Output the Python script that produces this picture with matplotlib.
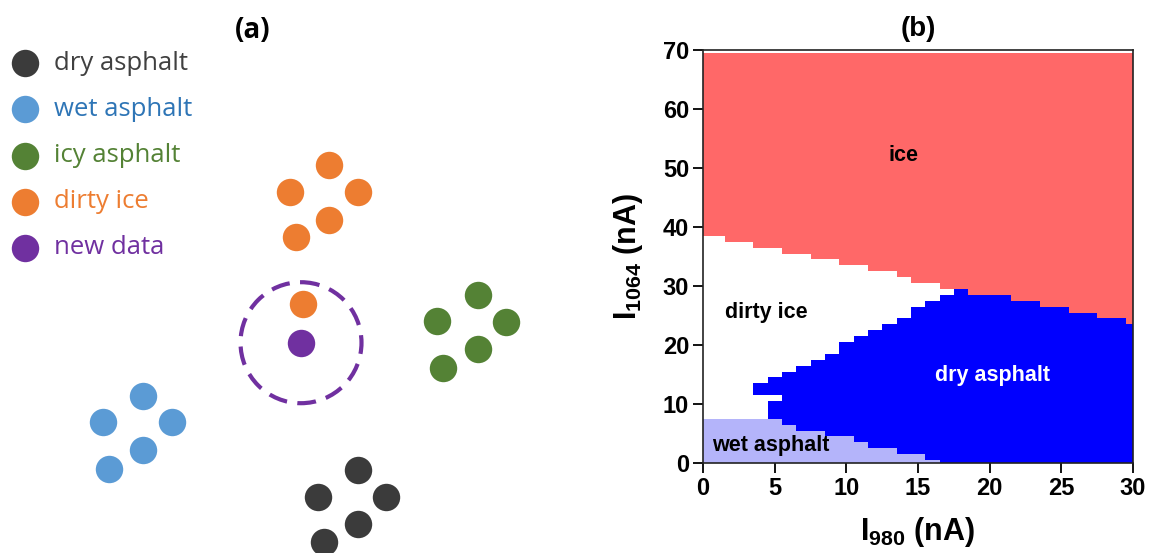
import matplotlib
matplotlib.use('Agg')
import matplotlib.pyplot as plt
from matplotlib.colors import ListedColormap
from matplotlib.patches import Circle
import numpy as np

plt.rcParams['mathtext.fontset'] = 'custom'
plt.rcParams['mathtext.rm'] = 'Liberation Sans'
plt.rcParams['mathtext.bf'] = 'Liberation Sans:bold'
plt.rcParams['mathtext.it'] = 'Liberation Sans:italic'

## (a) kNN sketch: feature-space samples of each class
categories = ['dry asphalt', 'wet asphalt', 'icy asphalt', 'dirty ice', 'new data']
dry_x = [357.7, 318.3, 386.0, 357.7, 324.0]
dry_y = [470.0, 496.7, 496.7, 524.3, 541.7]
wet_x = [143.3, 103.3, 171.7, 143.3, 109.0]
wet_y = [396.0, 422.0, 422.0, 450.0, 468.7]
icy_x = [478.3, 437.3, 506.0, 477.7, 443.3]
icy_y = [295.0, 320.7, 321.7, 349.0, 367.7]
dirty_x = [329.3, 290.0, 357.7, 329.3, 295.7, 303.3]
dirty_y = [165.0, 191.7, 191.7, 220.0, 237.3, 304.3]
new_x = [301.0]
new_y = [342.7]
neighbour_radius = 60.5

## (b) classifier map on a 1 nA grid (x = I980 column index 0..30)
i980 = np.arange(0, 31)
i1064 = np.arange(0, 70)
# lower edge of the "ice" region in each column
ice_floor = [38.5, 38.5, 37.5, 37.5, 36.5, 36.5, 35.5, 35.5, 34.5, 34.5, 33.5,
             33.5, 32.5, 32.5, 31.5, 30.5, 30.5, 29.5, 29.5, 28.5, 28.5, 28.5,
             27.5, 27.5, 26.5, 26.5, 25.5, 25.5, 24.5, 24.5, 23.5]
# upper / lower edges of the "dry asphalt" region
dry_top = [np.nan] * 4 + [13.5, 14.5, 15.5, 16.5, 17.5, 18.5, 20.5, 21.5, 22.5,
                          23.5, 24.5, 26.5, 27.5, 28.5, 29.5, 28.5, 28.5, 28.5,
                          27.5, 27.5, 26.5, 26.5, 25.5, 25.5, 24.5, 24.5, 23.5]
dry_bottom = [np.nan] * 4 + [11.5, 7.5, 6.5, 5.5, 5.5, 4.5, 4.5, 3.5, 2.5, 2.5,
                             1.5, 1.5, 0.5] + [-0.5] * 14
# upper edge of the "wet asphalt" region
wet_top = [7.5] * 6 + [6.5, 5.5, 5.5, 4.5, 4.5, 3.5, 2.5, 2.5, 1.5, 1.5, 0.5] + [-0.5] * 14
# isolated dirty-ice cells inside the dry asphalt region (column, row)
dirty_pockets = [(5, 11)]
region_names = ['ice', 'dirty ice', 'dry asphalt', 'wet asphalt']

labels = np.ones((len(i1064), len(i980)), dtype=int)
for i in range(len(i980)):
    for j, y in enumerate(i1064):
        if y > ice_floor[i]:
            labels[j, i] = 0
        elif dry_bottom[i] < y < dry_top[i]:
            labels[j, i] = 2
        elif y < wet_top[i]:
            labels[j, i] = 3
for (i, j) in dirty_pockets:
    labels[j, i] = 1

W, H = 1149, 553
fig = plt.figure(figsize=(W / 100, H / 100), dpi=100)

# ---------------- panel (a) ----------------
ax = fig.add_axes([0, 0, 600 / W, 1])
ax.set_xlim(0, 600)
ax.set_ylim(H, 0)
ax.axis('off')

dot_colors = ['#3b3b3b', '#5b9bd5', '#548235', '#ed7d31', '#7030a0']
text_colors = ['#404040', '#2e75b6', '#548235', '#ed7d31', '#7030a0']
dot_s = 390

groups = [(dry_x, dry_y), (wet_x, wet_y), (icy_x, icy_y), (dirty_x, dirty_y), (new_x, new_y)]
for (gx, gy), c in zip(groups, dot_colors):
    ax.scatter(gx, gy, s=dot_s, color=c, linewidths=0, zorder=3)

ax.add_patch(Circle((new_x[0], new_y[0]), neighbour_radius, fill=False,
                    edgecolor='#7030a0', lw=3, ls=(0, (4.5, 2.5)), zorder=2))

# hand-made legend
for k, (name, c, tc) in enumerate(zip(categories, dot_colors, text_colors)):
    ly = 63.3 + k * 46.1
    ax.scatter([25], [ly], s=dot_s, color=c, linewidths=0, zorder=3)
    ax.text(54, ly, name, color=tc, fontsize=18.5, family='Open Sans',
            va='center', ha='left')

fig.text(253 / W, 1 - 30 / H, '(a)', fontsize=20, fontweight='bold',
         family='Open Sans', ha='center', va='center')

# ---------------- panel (b) ----------------
bx = fig.add_axes([703 / W, (H - 463) / H, 430 / W, 413 / H])
cmap = ListedColormap(['#ff6868', '#ffffff', '#0000ff', '#b4b4fa'])
bx.pcolormesh(np.arange(-0.5, 31), np.arange(-0.5, 70), labels,
              cmap=cmap, vmin=-0.5, vmax=3.5, shading='flat')
bx.set_xlim(0, 30)
bx.set_ylim(0, 70)
bx.set_xticks(np.arange(0, 31, 5))
bx.set_yticks(np.arange(0, 71, 10))
bx.tick_params(direction='out', length=7, width=1.3, labelsize=17, pad=3)
for t in bx.get_xticklabels() + bx.get_yticklabels():
    t.set_fontweight('bold')
    t.set_family('Liberation Sans')
for sp in bx.spines.values():
    sp.set_linewidth(1.2)
    sp.set_color('#222222')

lab_font = dict(family='Liberation Sans', fontweight='bold', fontsize=15.5)
bx.text(14.0, 52.1, region_names[0], color='black', ha='center', va='center', **lab_font)
bx.text(4.44, 25.5, region_names[1], color='black', ha='center', va='center', **lab_font)
bx.text(20.2, 14.8, region_names[2], color='white', ha='center', va='center', **lab_font)
bx.text(4.76, 3.0, region_names[3], color='black', ha='center', va='center', **lab_font)

bx.set_xlabel(r'$\mathbf{I_{980}}$ (nA)', fontsize=22, fontweight='bold',
              family='Liberation Sans', labelpad=11)
bx.set_ylabel(r'$\mathbf{I_{1064}}$ (nA)', fontsize=22, fontweight='bold',
              family='Liberation Sans', labelpad=13)
bx.set_title('(b)', fontsize=20, fontweight='bold', family='Liberation Sans', pad=10)

fig.savefig('out.png', dpi=100)
plt.close()
